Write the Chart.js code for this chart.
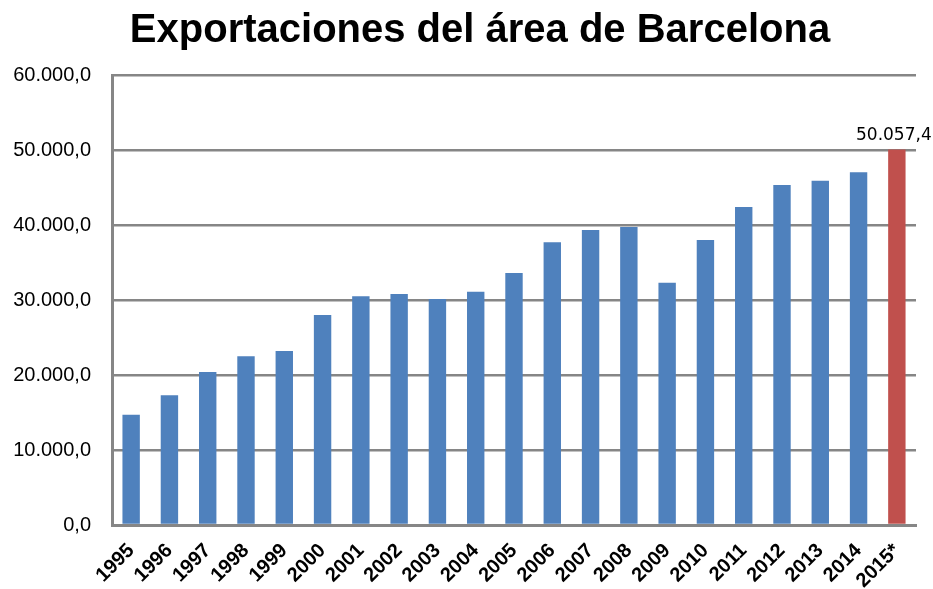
<!DOCTYPE html>
<html>
<head>
<meta charset="utf-8">
<script src="https://cdn.jsdelivr.net/npm/chart.js@4/dist/chart.umd.min.js"></script>
<style>
html,body{margin:0;padding:0;background:#fff;}
#wrap{width:933px;height:589px;}
</style>
</head>
<body>
<div id="wrap"><canvas id="c" width="933" height="589"></canvas></div>
<script>
const categories = ['1995','1996','1997','1998','1999','2000','2001','2002','2003','2004','2005','2006','2007','2008','2009','2010','2011','2012','2013','2014','2015*'];
const exportValues = [14700,17300,20400,22500,23200,28000,30500,30800,30150,31100,33600,37700,39350,39750,32300,38000,42400,45350,45900,47050,50057.4];
const barColors = ['#4F81BD','#4F81BD','#4F81BD','#4F81BD','#4F81BD','#4F81BD','#4F81BD','#4F81BD','#4F81BD','#4F81BD','#4F81BD','#4F81BD','#4F81BD','#4F81BD','#4F81BD','#4F81BD','#4F81BD','#4F81BD','#4F81BD','#4F81BD','#C0504D'];
const titleText = 'Exportaciones del área de Barcelona';
const yMin = 0, yMax = 60000, yStep = 10000;
const labelledIndex = 20;

function fmtEs(v, dec){
  const neg = v < 0; v = Math.abs(v);
  const s = v.toFixed(dec);
  let [ip, dp] = s.split('.');
  ip = ip.replace(/\B(?=(\d{3})+(?!\d))/g, '.');
  return (neg?'-':'') + ip + (dp!==undefined ? ','+dp : '');
}

const dataLabelPlugin = {
  id: 'dataLabel',
  afterDatasetsDraw(chart){
    const meta = chart.getDatasetMeta(0);
    const el = meta.data[labelledIndex];
    if(!el) return;
    const ctx = chart.ctx;
    ctx.save();
    ctx.font = '17px "DejaVu Sans"';
    ctx.fillStyle = '#000';
    ctx.textAlign = 'center';
    ctx.textBaseline = 'alphabetic';
    ctx.fillText(fmtEs(exportValues[labelledIndex],1), el.x - 3, el.y - 10);
    ctx.restore();
  }
};

const titlePlugin = {
  id: 'customTitle',
  afterDraw(chart){
    const ctx = chart.ctx;
    ctx.save();
    ctx.font = 'bold 40px "Liberation Sans", Arial, sans-serif';
    ctx.fillStyle = '#000';
    ctx.textAlign = 'center';
    ctx.textBaseline = 'alphabetic';
    ctx.fillText(titleText, 480, 42);
    ctx.restore();
  }
};

new Chart(document.getElementById('c'), {
  type: 'bar',
  data: {
    labels: categories,
    datasets: [{
      data: exportValues,
      backgroundColor: barColors,
      borderWidth: 0,
      barPercentage: 0.4545,
      categoryPercentage: 1.0
    }]
  },
  options: {
    responsive: false,
    animation: false,
    devicePixelRatio: 1,
    layout: { padding: { left: 0, right: 17, top: 75, bottom: 0 } },
    plugins: {
      legend: { display: false },
      tooltip: { enabled: false },
      title: { display: false }
    },
    scales: {
      x: {
        grid: { display: false, drawTicks: false },
        border: { display: true, color: '#868686', width: 3 },
        ticks: {
          color: '#000',
          font: { family: '"Liberation Sans", Arial, sans-serif', size: 20, weight: 'bold' },
          minRotation: 45, maxRotation: 45,
          autoSkip: false,
          padding: 14
        },
        afterFit(scale){ scale.height = 64; }
      },
      y: {
        min: yMin, max: yMax,
        grid: { color: '#868686', lineWidth: 2.5, drawTicks: false },
        border: { display: true, color: '#868686', width: 3 },
        ticks: {
          stepSize: yStep,
          color: '#000',
          font: { family: '"Liberation Sans", Arial, sans-serif', size: 20 },
          padding: 21,
          callback: (v) => fmtEs(v, 1)
        },
        afterFit(scale){ scale.width = 112; }
      }
    }
  },
  plugins: [dataLabelPlugin, titlePlugin]
});
</script>
</body>
</html>
